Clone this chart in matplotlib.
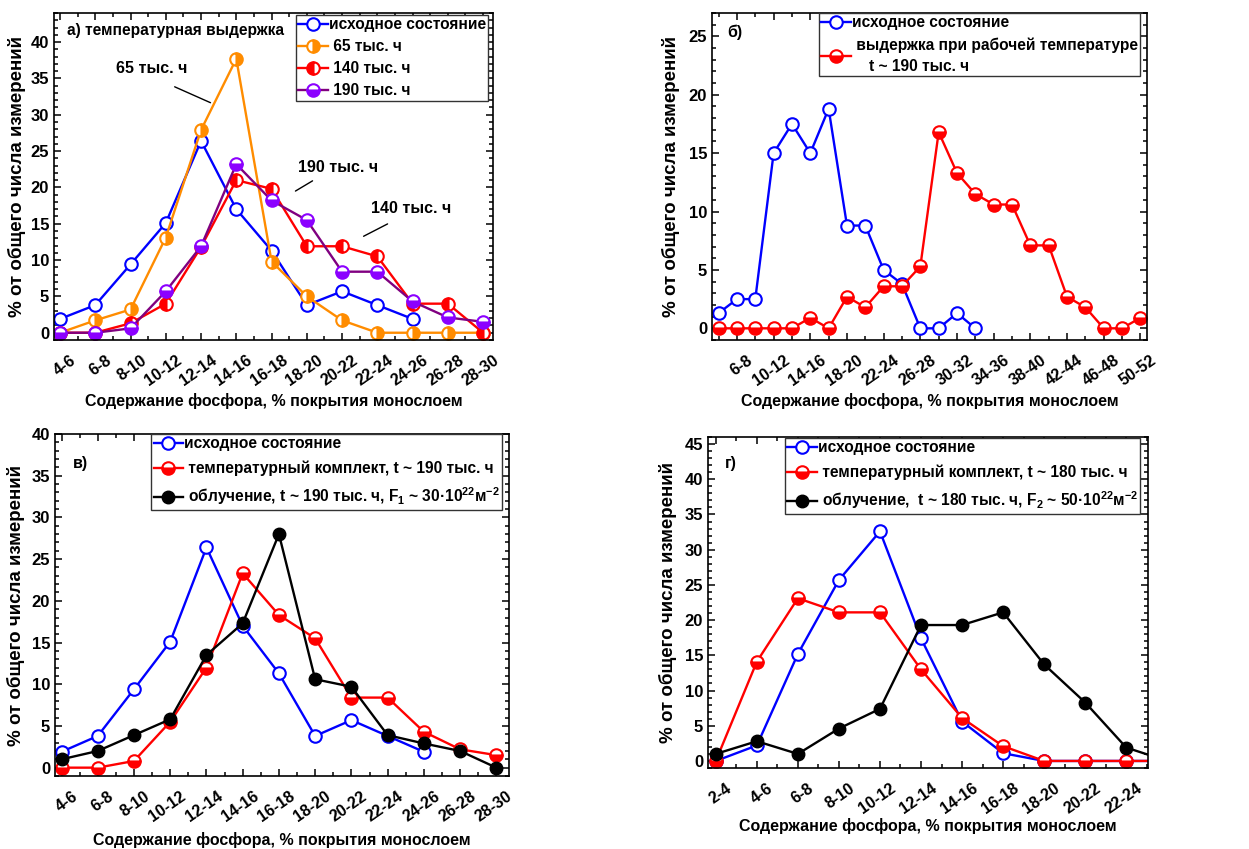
import numpy as np
import matplotlib.pyplot as plt
import matplotlib.transforms as mtransforms
from matplotlib.ticker import MultipleLocator, FixedLocator

plt.rcParams['font.family'] = ['Liberation Sans', 'DejaVu Sans']
plt.rcParams['font.weight'] = 'bold'
plt.rcParams['mathtext.fontset'] = 'custom'
plt.rcParams['mathtext.bf'] = 'Liberation Sans:bold'
plt.rcParams['mathtext.rm'] = 'Liberation Sans:bold'
plt.rcParams['mathtext.default'] = 'bf'

# ---- data ----
cats_a = ['4-6', '6-8', '8-10', '10-12', '12-14', '14-16', '16-18', '18-20',
          '20-22', '22-24', '24-26', '26-28', '28-30']
init_a = [1.9, 3.8, 9.4, 15.1, 26.4, 17.0, 11.3, 3.8, 5.7, 3.8, 1.9]
h65 = [0, 1.7, 3.2, 13.1, 27.9, 37.7, 9.8, 5.0, 1.7, 0, 0, 0, 0]
h140 = [0, 0, 1.3, 4.0, 11.8, 21.0, 19.8, 11.9, 11.9, 10.5, 4.0, 4.0, 0]
h190 = [0, 0, 0.6, 5.7, 11.9, 23.2, 18.2, 15.5, 8.4, 8.4, 4.3, 2.1, 1.5]

cats_b = ['4-6', '6-8', '8-10', '10-12', '12-14', '14-16', '16-18', '18-20',
          '20-22', '22-24', '24-26', '26-28', '28-30', '30-32', '32-34', '34-36',
          '36-38', '38-40', '40-42', '42-44', '44-46', '46-48', '48-50', '50-52']
init_b = [1.3, 2.5, 2.5, 15.0, 17.5, 15.0, 18.8, 8.8, 8.8, 5.0, 3.8, 0, 0, 1.3, 0]
work_b = [0, 0, 0, 0, 0, 0.9, 0, 2.7, 1.8, 3.6, 3.6, 5.3, 16.8, 13.3, 11.5,
          10.6, 10.6, 7.1, 7.1, 2.7, 1.8, 0, 0, 0.9]

cats_v = cats_a
init_v = init_a
temp_v = [0, 0, 0.8, 5.5, 12.0, 23.3, 18.3, 15.5, 8.4, 8.4, 4.3, 2.2, 1.5]
irr_v = [1.0, 2.0, 3.9, 5.8, 13.5, 17.3, 28.0, 10.6, 9.7, 3.9, 2.9, 2.0, 0]

cats_g = ['2-4', '4-6', '6-8', '8-10', '10-12', '12-14', '14-16', '16-18',
          '18-20', '20-22', '22-24', '24-26']
init_g = [0, 2.2, 15.2, 25.7, 32.6, 17.4, 5.6, 1.1, 0, 0, 0, 0]
temp_g = [0, 14.1, 23.1, 21.1, 21.1, 13.0, 6.1, 2.1, 0, 0, 0, 0]
irr_g = [1.0, 2.8, 1.0, 4.6, 7.4, 19.3, 19.3, 21.1, 13.7, 8.3, 1.9, 0]

W, H = 1249, 849
fig = plt.figure(figsize=(W / 100, H / 100), dpi=100)
axes = []


def make_ax(l, t, r, b):
    a = fig.add_axes([l / W, 1 - b / H, (r - l) / W, (b - t) / H])
    axes.append(a)
    return a


xlab = 'Содержание фосфора, % покрытия монослоем'
ylab = '% от общего числа измерений'
FS = 11.5
LFS = 11.2
MS = 9
LW = 1.7


def style(ax, ylabx, xlaby):
    ax.tick_params(which='both', direction='in', top=True, right=True,
                   labelsize=FS, width=1.1)
    ax.tick_params(axis='y', labelsize=12)
    ax.tick_params(which='major', length=5)
    ax.tick_params(which='minor', length=3)
    ax.yaxis.set_minor_locator(MultipleLocator(1))
    ax.yaxis.set_major_locator(MultipleLocator(5))
    for s in ax.spines.values():
        s.set_linewidth(1.2)
    ax.set_xlabel(xlab, fontsize=FS, fontweight='bold')
    ax.set_ylabel(ylab, fontsize=13.5, fontweight='bold')
    ax.xaxis.set_label_coords(0.5, xlaby)
    ax.yaxis.set_label_coords(ylabx, 0.5)


def xticks(ax, idx, labels):
    ax.set_xticks(idx, labels, rotation=35, ha='right', va='top',
                  rotation_mode='anchor')
    ax.tick_params(axis='x', pad=9)


def open_line(ax, x, y, color, label):
    ax.plot(x, y, '-o', color=color, lw=LW, ms=MS, mfc='white', mec=color,
            mew=1.5, label=label)


def half_line(ax, x, y, color, fs, label, lc=None):
    ax.plot(x, y, '-o', color=lc or color, lw=LW, ms=MS, mfc=color, mec=color,
            mew=1.5, fillstyle=fs, markerfacecoloralt='white', label=label)


def legend(ax, anchor, spacing):
    return ax.legend(loc='upper right', bbox_to_anchor=anchor, fontsize=LFS,
                     frameon=True, fancybox=False, edgecolor='#333333',
                     framealpha=1, borderaxespad=0, handlelength=1.9,
                     handletextpad=0.05, labelspacing=spacing, borderpad=0.15)


# ---- panel a ----
ax = make_ax(54, 13, 493, 340)
xa = np.arange(len(cats_a))
open_line(ax, xa[:len(init_a)], init_a, '#0000FF', 'исходное состояние')
half_line(ax, xa, h65, '#FF8C00', 'right', ' 65 тыс. ч')
half_line(ax, xa, h140, '#FF0000', 'left', ' 140 тыс. ч')
half_line(ax, xa, h190, '#8B00FF', 'bottom', ' 190 тыс. ч', lc='#800080')
ax.set_xlim(-0.17, 12.28)
ax.set_ylim(-1, 44)
xticks(ax, xa, cats_a)
ax.xaxis.set_minor_locator(MultipleLocator(0.5))
style(ax, -0.064, -0.162)
legend(ax, (0.989, 0.994), 0.45)
ax.text(0.03, 0.948, 'а) температурная выдержка', transform=ax.transAxes,
        fontsize=LFS, fontweight='bold', va='center', ha='left')
ax.text(2.6, 36.3, '65 тыс. ч', fontsize=FS, ha='center', va='center')
ax.annotate('', xy=(4.34, 31.5), xytext=(3.18, 34.0),
            arrowprops=dict(arrowstyle='-', lw=1, color='k'))
ax.text(7.9, 22.7, '190 тыс. ч', fontsize=FS, ha='center', va='center')
ax.annotate('', xy=(6.61, 19.3), xytext=(7.23, 21.1),
            arrowprops=dict(arrowstyle='-', lw=1, color='k'))
ax.text(9.96, 17.1, '140 тыс. ч', fontsize=FS, ha='center', va='center')
ax.annotate('', xy=(8.54, 13.1), xytext=(9.36, 15.15),
            arrowprops=dict(arrowstyle='-', lw=1, color='k'))

# ---- panel b ----
ax = make_ax(712, 13, 1147, 340)
xb = np.arange(len(cats_b))
open_line(ax, xb[:len(init_b)], init_b, '#0000FF', 'исходное состояние')
half_line(ax, xb, work_b, '#FF0000', 'bottom',
          ' выдержка при рабочей температуре\n    t ~ 190 тыс. ч')
ax.set_xlim(-0.36, 23.36)
ax.set_ylim(-1, 27)
xticks(ax, xb[1::2], cats_b[1::2])
ax.xaxis.set_minor_locator(FixedLocator(xb[0::2]))
style(ax, -0.074, -0.162)
leg = legend(ax, (0.984, 1.0), 0.45)
leg.get_texts()[1].set_linespacing(1.5)
ax.text(0.034, 0.942, 'б)', transform=ax.transAxes, fontsize=FS,
        fontweight='bold', va='center', ha='left')

# ---- panel v ----
ax = make_ax(55, 434, 509, 776)
xv = np.arange(len(cats_v))
open_line(ax, xv[:len(init_v)], init_v, '#0000FF', 'исходное состояние')
half_line(ax, xv, temp_v, '#FF0000', 'bottom',
          ' температурный комплект, t ~ 190 тыс. ч')
ax.plot(xv, irr_v, '-o', color='black', lw=LW, ms=MS,
        label=' облучение, t ~ 190 тыс. ч, F$_1$ ~ 30·10$^{22}$м$^{-2}$')
ax.set_xlim(-0.18, 12.35)
ax.set_ylim(-1, 40)
xticks(ax, xv, cats_v)
ax.xaxis.set_minor_locator(MultipleLocator(0.5))
style(ax, -0.066, -0.164)
legend(ax, (0.985, 1.0), 0.6)
ax.text(0.04, 0.915, 'в)', transform=ax.transAxes, fontsize=FS,
        fontweight='bold', va='center', ha='left')

# ---- panel g ----
ax = make_ax(708, 437, 1148, 768)
xg = np.arange(len(cats_g))
open_line(ax, xg, init_g, '#0000FF', 'исходное состояние')
half_line(ax, xg, temp_g, '#FF0000', 'bottom',
          ' температурный комплект, t ~ 180 тыс. ч')
ax.plot(xg, irr_g, '-o', color='black', lw=LW, ms=MS,
        label=' облучение,  t ~ 180 тыс. ч, F$_2$ ~ 50·10$^{22}$м$^{-2}$')
ax.set_xlim(-0.19, 10.53)
ax.set_ylim(-1, 46)
xticks(ax, xg[:11], cats_g[:11])
ax.xaxis.set_minor_locator(MultipleLocator(0.5))
style(ax, -0.070, -0.151)
legend(ax, (0.982, 0.997), 0.6)
ax.text(0.039, 0.92, 'г)', transform=ax.transAxes, fontsize=FS,
        fontweight='bold', va='center', ha='left')

# shift rotated tick labels a little to the right, as in the original
shift = mtransforms.ScaledTranslation(10 / 100, 0, fig.dpi_scale_trans)
for a in axes:
    for lab in a.get_xticklabels():
        lab.set_transform(lab.get_transform() + shift)

fig.savefig('out.png', dpi=100)
